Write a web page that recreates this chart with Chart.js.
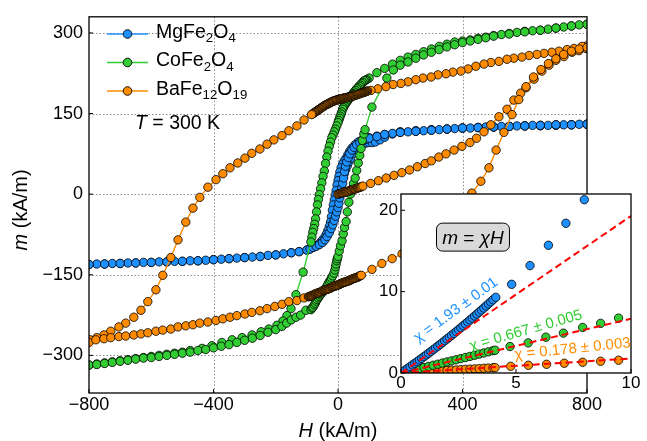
<!DOCTYPE html>
<html><head><meta charset="utf-8">
<script src="https://cdn.jsdelivr.net/npm/chart.js@4.4.1/dist/chart.umd.min.js"></script>
<style>
html,body{margin:0;padding:0;background:#fff;overflow:hidden}
#wrap{position:relative;width:647px;height:441px}
canvas{position:absolute;left:0;top:0}
#inset{pointer-events:none}
</style></head>
<body><div id="wrap"><canvas id="main" width="647" height="441"></canvas><canvas id="inset" width="647" height="441"></canvas></div>
<script>
// ---------- axis ticks ----------
const xTicks = [-800, -400, 0, 400, 800];
const yTicks = [-300, -150, 0, 150, 300];
const insetXTicks = [0, 5, 10];
const insetYTicks = [0, 10, 20];

// ---------- MgFe2O4 (H in kA/m, m in kA/m) ----------
const mgVirH = [0,4,8,12,16,20,25,30,35,40,50,60,70,80,90,100,110,120,135,150,175,200,250,300,350,400,450,500,550,600,650,700,750,800];
const mgVirM = [0,8,16,24,31,38,46,53,60,66,76,83,89,93,95,96,96,97,101,106,112,116,118,120,121,123,124,125,126,127,127,128,129,130];
const mgDownH = [800,775,750,725,700,675,650,625,600,575,550,525,500,475,450,425,400,375,350,325,300,275,250,225,200,175,150,125,100,85,75,65,55,45,38,32,26,20,15,10,6,3,0,-3,-6,-9,-12,-15,-18,-21,-24,-28,-33,-38,-45,-52,-60,-70,-80,-90,-100,-125,-150,-175,-200,-225,-250,-275,-300,-325,-350,-375,-400,-425,-450,-475,-500,-525,-550,-575,-600,-625,-650,-675,-700,-725,-750,-775,-800];
const mgDownM = [130,130,129,129,129,128,128,128,127,127,126,126,125,125,124,123,123,122,121,120,119,118,117,116,115,113,111,108,105,102,100,97,92,86,80,74,67,62,56,49,41,33,25,17,7,-2,-11,-20,-30,-42,-52,-60,-68,-75,-82,-87,-92,-96,-99,-102,-104,-107,-109,-111,-113,-114,-116,-117,-118,-119,-120,-121,-122,-123,-124,-124,-125,-125,-126,-126,-127,-127,-128,-128,-129,-129,-130,-130,-131];
const mgUpH = [-800,-750,-700,-650,-600,-550,-500,-450,-400,-350,-300,-250,-200,-150,-125,-100,-90,-80,-70,-60,-50,-42,-35,-28,-22,-17,-12,-8,-4,0,3,6,9,12,15,18,21,24,28,33,38,45,52,60,70,80,90,100,125,150,200,250,300,350,400,450,500,550,600,650,700,750,800];
const mgUpM = [-131,-130,-129,-128,-127,-126,-125,-124,-122,-120,-118,-116,-113,-109,-107,-104,-102,-99,-97,-94,-90,-85,-79,-72,-64,-57,-49,-41,-33,-25,-17,-7,2,11,20,30,42,52,60,68,75,82,87,92,96,99,102,104,107,111,115,117,119,121,123,124,125,126,127,128,129,129,130];

// ---------- CoFe2O4 ----------
const coDownH = [800,775,750,725,700,675,650,625,600,575,550,525,500,475,450,425,400,375,350,325,300,275,250,225,200,175,150,125,100,92,88,84,80,76,72,68,64,60,56,52,48,45,41,38,35,32,29,26,23,20,17,15,12,10,7,5,2,0,-4,-8,-12,-16,-20,-24,-28,-32,-36,-40,-44,-48,-52,-56,-60,-63,-66,-69,-72,-75,-78,-81,-84,-87,-112,-135,-151,-164,-177,-196,-222,-247,-276,-308,-340,-373,-405,-437,-475,-500,-525,-550,-575,-600,-625,-650,-675,-700,-725,-750,-775,-800];
const coDownM = [316,315,313,311,309,307,305,304,303,301,299,297,295,292,290,287,285,283,279,275,270,265,260,255,249,242,234,226,216,213,212,211,208,206,203,201,198,196,193,190,187,185,182,180,177,175,172,170,167,164,161,158,153,149,145,141,137,133,127,121,116,110,105,97,89,80,69,57,43,33,21,10,-1,-10,-20,-33,-46,-56,-64,-71,-80,-89,-145,-187,-213,-226,-236,-244,-251,-256,-262,-267,-271,-276,-282,-287,-291,-294,-296,-298,-300,-302,-304,-306,-308,-310,-312,-314,-316,-318];
const coUpH = [-800,-775,-750,-725,-700,-675,-650,-625,-600,-575,-550,-525,-500,-475,-450,-425,-400,-375,-350,-325,-300,-275,-250,-225,-200,-180,-165,-150,-135,-120,-103,-87,-83,-80,-76,-73,-70,-67,-63,-60,-56,-52,-48,-44,-40,-35,-32,-28,-24,-21,-17,-13,-10,-8,-6,-4,-2,0,4,8,13,17,21,26,30,35,40,45,50,55,60,65,70,74,78,83,87,109,157,178,200,225,250,275,300,325,350,375,400,425,450,475,500,550,600,650,700,750,800];
const coUpM = [-318,-317,-315,-313,-311,-309,-307,-305,-304,-302,-300,-298,-296,-294,-291,-289,-286,-283,-280,-276,-272,-268,-263,-257,-252,-246,-240,-234,-229,-225,-216,-215,-212,-210,-206,-203,-199,-196,-193,-190,-187,-184,-181,-178,-175,-171,-167,-163,-160,-156,-152,-147,-141,-135,-130,-124,-120,-116,-106,-96,-87,-74,-62,-51,-33,-15,0,10,20,30,44,58,72,85,100,112,120,162,216,231,240,246,253,259,264,269,274,278,282,285,288,291,294,298,302,305,309,313,316];

// ---------- BaFe12O19 ----------
const baVirH = [0,3,6,9,12,15,18,21,24,27,30,33,36,39,42,45,48,51,54,57,60,63,66,69,72,75,80,105,130,155,180,205,230,255,280,300,324,347,373,398,424,445,469,491,517,543,565,587,604,630,655,678,700,726,752,774,797];
const baVirM = [0,0.5,1,1.5,2,2.5,3,3.5,4,4.5,5,5.5,6,6.5,7,8,8.5,9,9.5,10,11,11.5,12,12.5,13,14,15,20,25,30,35,40,45,51,57,62,69,75,82,89,96,104,116,129,144,158,175,188,198,214,229,240,249,256,264,267,271];
const baDownH = [800,784,758,736,710,687,662,639,614,591,565,543,517,491,469,443,418,395,369,347,321,299,273,250,225,202,177,154,128,106,
  95,92.5,90,87.5,85,82.5,80,77.5,75,72.5,70,67.5,65,62.5,60,57.5,55,52.5,50,47.5,45,42.5,40,37.5,35,32.5,30,27.5,25,22.5,20,17.5,15,12.5,10,7.5,5,2.5,0,
  -2.5,-5,-7.5,-10,-12.5,-15,-17.5,-20,-22.5,-25,-27.5,-30,-32.5,-35,-37.5,-40,-42.5,-45,-47.5,-50,-52.5,-55,-57.5,-60,-62.5,-65,-67.5,-70,-72.5,-75,-77.5,-80,-82.5,-85,
  -109,-132,-158,-180,-206,-228,-251,-277,-299,-322,-347,-370,-392,-418,-444,-466,-489,-514,-537,-563,-585,-611,-633,-656,-682,-704,-730,-752,-775,-797];
const baDownM = [276,275,271,269,266,264,262,260,258,255,253,251,247,245,242,238,233,229,227,224,222,218,216,213,209,206,204,200,196,193,
  192,191.5,191,190.5,190,189.5,189,188.5,188,187.5,187,186.5,186,185.5,185,184.5,184,183.5,183,182.5,182,182,182,181.5,181,180.5,180,179.5,179,179,179,178.5,178,177.5,177,177,177,176.5,176,
  175.5,175,174.5,174,173.5,173,172.5,172,171,170,169.5,169,168,167,166.5,166,165,164,163,162,161,160,159,158,157,156,155,154,153,152,151,150,149,148,
  138,127,118,109,101,93,84,76,67,58,49,38,27,13,-6,-26,-52,-85,-118,-151,-178,-200,-216,-229,-240,-247,-255,-262,-267,-271];
const baUpH = [-800,-778,-752,-730,-704,-682,-656,-633,-611,-585,-563,-537,-514,-489,-466,-444,-418,-392,-370,-347,-325,-299,-277,-251,-228,-203,-180,-158,-132,-109,
  -95,-92.5,-90,-87.5,-85,-82.5,-80,-77.5,-75,-72.5,-70,-67.5,-65,-62.5,-60,-57.5,-55,-52.5,-50,-47.5,-45,-42.5,-40,-37.5,-35,-32.5,-30,-27.5,-25,-22.5,-20,-17.5,-15,-12.5,-10,-7.5,-5,-2.5,
  0,2.5,5,7.5,10,12.5,15,17.5,20,22.5,25,27.5,30,32.5,35,37.5,40,42.5,45,47.5,50,52.5,55,57.5,60,62.5,65,67.5,70,72.5,75,
  109,141,174,206,238,270,300,330,360,385,408,430,459,485,508,533,559,581,604,628,652,676,700,725,750,775,800];
const baUpM = [-276,-271,-269,-267,-265,-264,-262,-260,-258,-255,-253,-251,-247,-245,-243,-240,-238,-235,-232,-229,-226,-223,-220,-217,-213,-209,-205,-200,-198,-193,
  -191,-190.5,-190,-189.5,-189,-188.5,-188,-187,-186,-185.5,-185,-184.5,-184,-183.5,-183,-182.5,-182,-181,-180,-179.5,-179,-178.5,-178,-177.5,-177,-176.5,-176,-175.5,-175,-174,-173,-172.5,-172,-171.5,-171,-170.5,-170,-169.5,
  -169,-168.5,-168,-167,-166,-165.5,-165,-164.5,-164,-163.5,-163,-162.5,-162,-161.5,-161,-160.5,-160,-159,-158,-157.5,-157,-156.5,-156,-155.5,-155,-154.5,-154,-153,-152,-151.5,-151,
  -140,-129,-120,-111,-103,-93,-82,-70,-55,-39,-20,2,24,49,82,115,148,176,200,218,232,243,252,260,266,270,273];

// ---------- inset: low-field virgin data ----------
const inBlueH = [0.1,0.2,0.3,0.4,0.5,0.6,0.7,0.8,0.9,1.0,1.1,1.2,1.3,1.4,1.5,1.6,1.7,1.8,1.9,2.0,2.1,2.2,2.3,2.4,2.5,2.6,2.7,2.8,2.9,3.0,3.1,3.2,3.3,3.4,3.5,3.6,3.7,3.8,3.9,4.0,4.12,4.81,5.61,6.41,7.17,7.97];
const inBlueM = [0.19,0.39,0.59,0.78,0.99,1.19,1.39,1.60,1.80,2.01,2.22,2.43,2.64,2.86,3.08,3.29,3.51,3.73,3.96,4.18,4.41,4.63,4.86,5.09,5.33,5.56,5.80,6.03,6.27,6.51,6.75,7.00,7.24,7.49,7.74,7.98,8.24,8.49,8.74,9.00,9.30,10.9,13.2,15.7,18.4,21.3];
const inGreenH = [0.2,0.4,0.6,0.8,1.0,1.2,1.4,1.6,1.8,2.0,2.2,2.4,2.6,2.8,3.0,3.2,3.4,3.6,3.8,4.0,4.09,4.74,5.53,6.30,7.06,7.90,8.68,9.46];
const inGreenM = [0.14,0.27,0.41,0.54,0.68,0.81,0.95,1.08,1.22,1.36,1.49,1.63,1.77,1.90,2.04,2.18,2.32,2.46,2.60,2.74,2.80,3.25,3.70,4.40,4.90,5.60,6.10,6.75];
const inOrangeH = [0.2,0.4,0.6,0.8,1.0,1.2,1.4,1.6,1.8,2.0,2.2,2.4,2.6,2.8,3.0,3.2,3.4,3.6,3.8,4.0,4.09,4.77,5.54,6.33,7.10,7.90,8.68,9.46];
const inOrangeM = [0.03,0.06,0.10,0.13,0.16,0.19,0.22,0.26,0.29,0.32,0.35,0.38,0.42,0.45,0.48,0.51,0.54,0.58,0.61,0.64,0.66,0.82,0.95,1.07,1.20,1.32,1.44,1.57];

// fitted susceptibilities
const chiValues = [1.93, 0.667, 0.178];
const chiErrors = ['0.01', '0.005', '0.003'];

// ---------- styling ----------
const BLUE = '#1E90FF', GREEN = '#32CD32', ORANGE = '#FF8C00', RED = '#FF0000';
const FONT = '"Liberation Sans", Arial, Helvetica, sans-serif';
Chart.defaults.font.family = FONT;
Chart.defaults.color = '#000';

function pts(H, M) {
  const n = Math.min(H.length, M.length), out = [];
  for (let i = 0; i < n; i++) out.push({x: H[i], y: M[i]});
  return out;
}
function fmt(v) { return v < 0 ? '\u2212' + Math.abs(v) : String(v); }
function setFont(ctx, size, italic) { ctx.font = (italic ? 'italic ' : '') + size + 'px ' + FONT; }
function richWidth(ctx, parts, size) {
  let w = 0;
  for (const p of parts) { setFont(ctx, p.s ? size * 0.68 : size, p.i); w += ctx.measureText(p.t).width; }
  return w;
}
function richDraw(ctx, parts, x, y, size) {
  let cx = x;
  for (const p of parts) {
    setFont(ctx, p.s ? size * 0.68 : size, p.i);
    ctx.fillText(p.t, cx, y + (p.s ? size * 0.24 : 0));
    cx += ctx.measureText(p.t).width;
  }
}
function seg(ctx, x1, y1, x2, y2) { ctx.beginPath(); ctx.moveTo(x1, y1); ctx.lineTo(x2, y2); ctx.stroke(); }

function series(data, color) {
  return {
    data, showLine: true, borderColor: color, borderWidth: 1.4, tension: 0,
    backgroundColor: color, pointBackgroundColor: color, pointBorderColor: '#000',
    pointBorderWidth: 0.8, pointRadius: 4.2, pointHoverRadius: 4.2
  };
}

const mgData = [...pts(mgVirH, mgVirM), ...pts(mgDownH, mgDownM), ...pts(mgUpH, mgUpM)];
const coData = [...pts(coDownH, coDownM), ...pts(coUpH, coUpM)];
const baData = [...pts(baVirH, baVirM), ...pts(baDownH, baDownM), ...pts(baUpH, baUpM)];

const legendRows = [
  {color: BLUE, y: 34, parts: [{t: 'MgFe'}, {t: '2', s: 1}, {t: 'O'}, {t: '4', s: 1}]},
  {color: GREEN, y: 62.5, parts: [{t: 'CoFe'}, {t: '2', s: 1}, {t: 'O'}, {t: '4', s: 1}]},
  {color: ORANGE, y: 91, parts: [{t: 'BaFe'}, {t: '12', s: 1}, {t: 'O'}, {t: '19', s: 1}]}
];

const mainPlugin = {
  id: 'mainDeco',
  beforeDatasetsDraw(chart) {
    const {ctx, chartArea: a, scales: {x, y}} = chart;
    ctx.save();
    ctx.strokeStyle = '#8a8a8a'; ctx.lineWidth = 1; ctx.setLineDash([1.5, 2]);
    xTicks.forEach(v => {
      if (v <= x.min || v >= x.max) return;
      const px = Math.round(x.getPixelForValue(v)) + 0.5;
      seg(ctx, px, a.top, px, a.bottom);
    });
    yTicks.forEach(v => {
      const py = Math.round(y.getPixelForValue(v)) + 0.5;
      seg(ctx, a.left, py, a.right, py);
    });
    ctx.restore();
  },
  afterDraw(chart) {
    const {ctx, chartArea: a, scales: {x, y}} = chart;
    ctx.save();
    ctx.setLineDash([]);
    ctx.strokeStyle = '#000'; ctx.lineWidth = 1.3;
    ctx.strokeRect(a.left, a.top, a.right - a.left, a.bottom - a.top);
    ctx.lineWidth = 1;
    xTicks.forEach(v => { const px = x.getPixelForValue(v); seg(ctx, px, a.bottom, px, a.bottom - 4); });
    yTicks.forEach(v => { const py = y.getPixelForValue(v); seg(ctx, a.left, py, a.left + 4, py); });

    // legend
    ctx.fillStyle = '#000';
    ctx.textBaseline = 'alphabetic'; ctx.textAlign = 'left';
    legendRows.forEach(r => {
      ctx.strokeStyle = r.color; ctx.lineWidth = 1.5;
      seg(ctx, 107, r.y, 148, r.y);
      ctx.beginPath(); ctx.arc(127.5, r.y, 4.3, 0, Math.PI * 2);
      ctx.fillStyle = r.color; ctx.fill();
      ctx.strokeStyle = '#000'; ctx.lineWidth = 0.9; ctx.stroke();
      ctx.fillStyle = '#000';
      richDraw(ctx, r.parts, 156, r.y + 3.5, 19.5);
    });
    richDraw(ctx, [{t: 'T', i: 1}, {t: ' = 300 K'}], 135, 129, 19.5);

    // axis titles
    const hParts = [{t: 'H', i: 1}, {t: ' (kA/m)'}];
    const hw = richWidth(ctx, hParts, 20);
    richDraw(ctx, hParts, (a.left + a.right) / 2 - hw / 2, 437, 20);
    const mParts = [{t: 'm', i: 1}, {t: ' (kA/m)'}];
    const mw = richWidth(ctx, mParts, 20);
    ctx.save();
    ctx.translate(27, (a.top + a.bottom) / 2 + 5);
    ctx.rotate(-Math.PI / 2);
    richDraw(ctx, mParts, -mw / 2, 0, 20);
    ctx.restore();
    ctx.restore();
  }
};

new Chart(document.getElementById('main'), {
  type: 'scatter',
  data: { datasets: [series(baData, ORANGE), series(coData, GREEN), series(mgData, BLUE)] },
  options: {
    responsive: false, animation: false, devicePixelRatio: 1,
    layout: { padding: { left: 0, right: 60, top: 7, bottom: 0 } },
    plugins: { legend: { display: false }, tooltip: { enabled: false } },
    events: [],
    scales: {
      x: {
        type: 'linear', min: -800, max: 800,
        afterBuildTicks: s => { s.ticks = xTicks.map(v => ({value: v})); },
        afterFit: s => { s.height = 48; },
        grid: { display: false, drawTicks: false }, border: { display: false },
        ticks: { padding: 1, font: { size: 18 }, maxRotation: 0, autoSkip: false, callback: v => fmt(v) }
      },
      y: {
        type: 'linear', min: -370, max: 330,
        afterBuildTicks: s => { s.ticks = yTicks.map(v => ({value: v})); },
        afterFit: s => { s.width = 89; },
        grid: { display: false, drawTicks: false }, border: { display: false },
        ticks: { padding: 6, font: { size: 18 }, autoSkip: false, callback: v => fmt(v) }
      }
    }
  },
  plugins: [mainPlugin]
});

// ---------- inset ----------
const chiColors = [BLUE, GREEN, ORANGE];
const chiLabelAnchors = [ {h: 2.39, m: 7.74, rot: -36}, {h: 5.43, m: 5.2, rot: -16}, {h: 7.46, m: 2.95, rot: -6} ];

const insetPlugin = {
  id: 'insetDeco',
  beforeDraw(chart) {
    const {ctx, chartArea: a} = chart;
    ctx.save(); ctx.fillStyle = '#fff';
    ctx.fillRect(a.left, a.top, a.right - a.left, a.bottom - a.top);
    ctx.restore();
  },
  afterDraw(chart) {
    const {ctx, chartArea: a, scales: {x, y}} = chart;
    ctx.save();
    ctx.strokeStyle = '#000'; ctx.lineWidth = 1.3; ctx.setLineDash([]);
    ctx.strokeRect(a.left, a.top, a.right - a.left, a.bottom - a.top);
    ctx.lineWidth = 1;
    insetXTicks.forEach(v => { const px = x.getPixelForValue(v); seg(ctx, px, a.bottom, px, a.bottom - 4); });
    insetYTicks.forEach(v => { const py = y.getPixelForValue(v); seg(ctx, a.left, py, a.left + 4, py); });

    // m = chi H box
    const bx = x.getPixelForValue(3.13), by = y.getPixelForValue(16.7);
    const parts = [{t: 'm', i: 1}, {t: ' = '}, {t: '\u03c7', i: 1}, {t: 'H', i: 1}];
    const w = richWidth(ctx, parts, 19);
    const bw = 73, bh = 28;
    ctx.beginPath();
    ctx.roundRect(bx - bw / 2, by - bh / 2, bw, bh, 6);
    ctx.fillStyle = '#d9d9d9'; ctx.fill();
    ctx.strokeStyle = '#000'; ctx.lineWidth = 1; ctx.stroke();
    ctx.fillStyle = '#000'; ctx.textBaseline = 'alphabetic';
    richDraw(ctx, parts, bx - w / 2, by + 6.5, 19);

    // chi labels
    ctx.textBaseline = 'middle';
    chiLabelAnchors.forEach((an, i) => {
      const txt = '\u03c7 = ' + chiValues[i] + ' \u00b1 ' + chiErrors[i];
      ctx.save();
      ctx.translate(x.getPixelForValue(an.h), y.getPixelForValue(an.m));
      ctx.rotate(an.rot * Math.PI / 180);
      setFont(ctx, 15, false);
      ctx.fillStyle = chiColors[i];
      ctx.textAlign = 'center';
      ctx.fillText(txt, 0, 0);
      ctx.restore();
    });
    ctx.restore();
  }
};

function inPts(H, M, color) {
  return { data: pts(H, M), showLine: false, backgroundColor: color, pointBackgroundColor: color,
    pointBorderColor: '#000', pointBorderWidth: 0.8, pointRadius: 4.2, pointHoverRadius: 4.2 };
}
const fitLines = chiValues.map(c => ({
  data: [{x: 0, y: 0}, {x: 10, y: c * 10}], showLine: true, borderColor: RED, borderWidth: 2,
  borderDash: [7, 4], pointRadius: 0, pointHoverRadius: 0, tension: 0
}));

new Chart(document.getElementById('inset'), {
  type: 'scatter',
  data: { datasets: [...fitLines, inPts(inBlueH, inBlueM, BLUE), inPts(inGreenH, inGreenM, GREEN), inPts(inOrangeH, inOrangeM, ORANGE)] },
  options: {
    responsive: false, animation: false, devicePixelRatio: 1,
    layout: { padding: { left: 371, right: 16, top: 194, bottom: 43 } },
    plugins: { legend: { display: false }, tooltip: { enabled: false } },
    events: [],
    scales: {
      x: {
        type: 'linear', min: 0, max: 10,
        afterBuildTicks: s => { s.ticks = insetXTicks.map(v => ({value: v})); },
        afterFit: s => { s.height = 25; },
        grid: { display: false, drawTicks: false }, border: { display: false },
        ticks: { padding: 0, font: { size: 17 }, maxRotation: 0, autoSkip: false }
      },
      y: {
        type: 'linear', min: 0, max: 22,
        afterBuildTicks: s => { s.ticks = insetYTicks.map(v => ({value: v})); },
        afterFit: s => { s.width = 30; },
        grid: { display: false, drawTicks: false }, border: { display: false },
        ticks: { padding: 3, font: { size: 17 }, autoSkip: false }
      }
    }
  },
  plugins: [insetPlugin]
});
</script>
</body></html>
